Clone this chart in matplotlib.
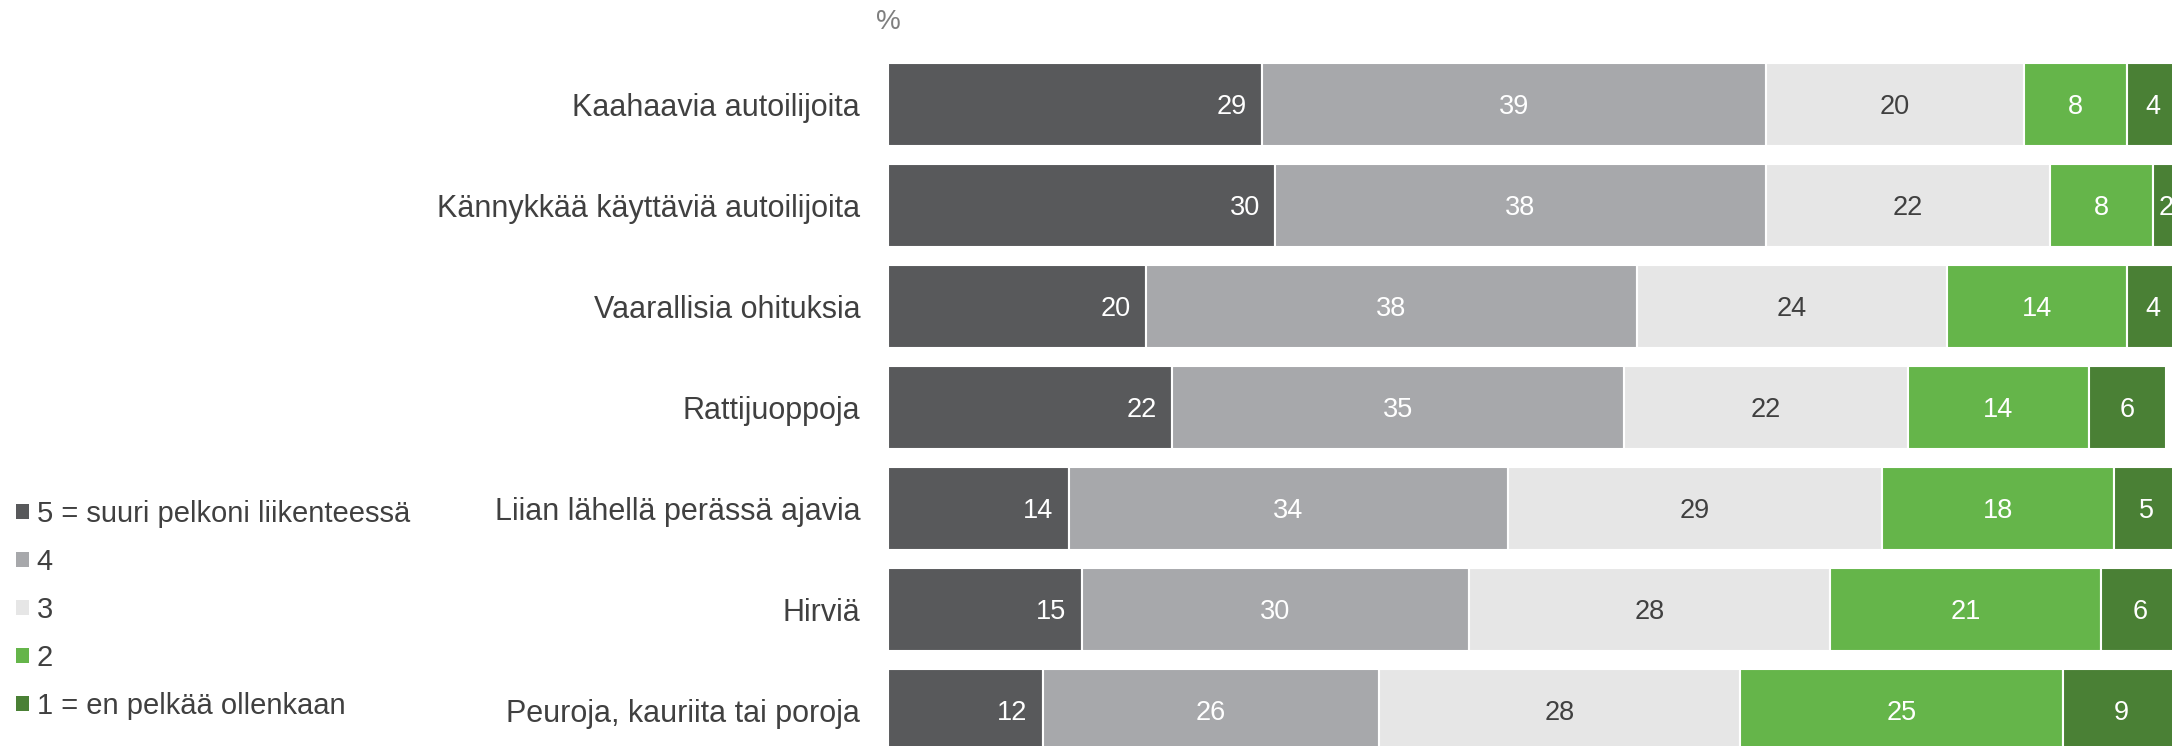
import matplotlib.pyplot as plt
from matplotlib.patches import Patch
import numpy as np

plt.rcParams['font.family'] = ['Liberation Sans', 'DejaVu Sans']

categories = ['Kaahaavia autoilijoita', 'Kännykkää käyttäviä autoilijoita',
              'Vaarallisia ohituksia', 'Rattijuoppoja',
              'Liian lähellä perässä ajavia', 'Hirviä',
              'Peuroja, kauriita tai poroja']
series = ['5 = suuri pelkoni liikenteessä', '4', '3', '2', '1 = en pelkää ollenkaan']
v5 = [29, 30, 20, 22, 14, 15, 12]
v4 = [39, 38, 38, 35, 34, 30, 26]
v3 = [20, 22, 24, 22, 29, 28, 28]
v2 = [8, 8, 14, 14, 18, 21, 25]
v1 = [4, 2, 4, 6, 5, 6, 9]

colors = ['#58595b', '#a7a8ab', '#e6e6e6', '#65b54a', '#4a8035']
txt_colors = ['white', 'white', '#404040', 'white', 'white']

fig = plt.figure(figsize=(21.72, 7.46), dpi=100)
ax = fig.add_axes([0.4088, -0.0201, 0.5944, 0.9477])

y = np.arange(len(categories))
left = np.zeros(len(categories))
for k, (vals, name, c, tc) in enumerate(zip([v5, v4, v3, v2, v1], series, colors, txt_colors)):
    vals = np.array(vals, dtype=float)
    ax.barh(y, vals, left=left, height=0.82, color=c, edgecolor='white',
            linewidth=1.5, label=name)
    for yi, l, v in zip(y, left, vals):
        if k == 0:
            # first series: label at the inside end of the bar
            ax.annotate(f'{v:g}', (l + v, yi), xytext=(-11, -1.5), textcoords='offset points',
                        ha='right', va='center', fontsize=19.5, color=tc)
        else:
            ax.annotate(f'{v:g}', (l + v / 2, yi), xytext=(0, -1.5), textcoords='offset points',
                        ha='center', va='center', fontsize=19.5, color=tc)
    left += vals

ax.set_xlim(0, 100)
ax.set_ylim(len(categories) - 0.5, -0.5)
ax.set_yticks(y)
ax.set_yticklabels(categories, fontsize=22, color='#404040')
ax.tick_params(axis='y', length=0, pad=20)
ax.set_xticks([])
for s in ax.spines.values():
    s.set_visible(False)

fig.text(0.4088, 0.97, '%', ha='center', va='center', fontsize=20, color='#7f7f7f')

handles = [Patch(facecolor=c, edgecolor='none') for c in colors]
fig.legend(handles, series, loc='upper left', bbox_to_anchor=(0.0075, 0.33),
           frameon=False, fontsize=21, handlelength=0.42, handleheight=0.42,
           handletextpad=0.28, labelspacing=0.69, borderpad=0, borderaxespad=0,
           labelcolor='#404040')

fig.savefig('out.png', dpi=100)
